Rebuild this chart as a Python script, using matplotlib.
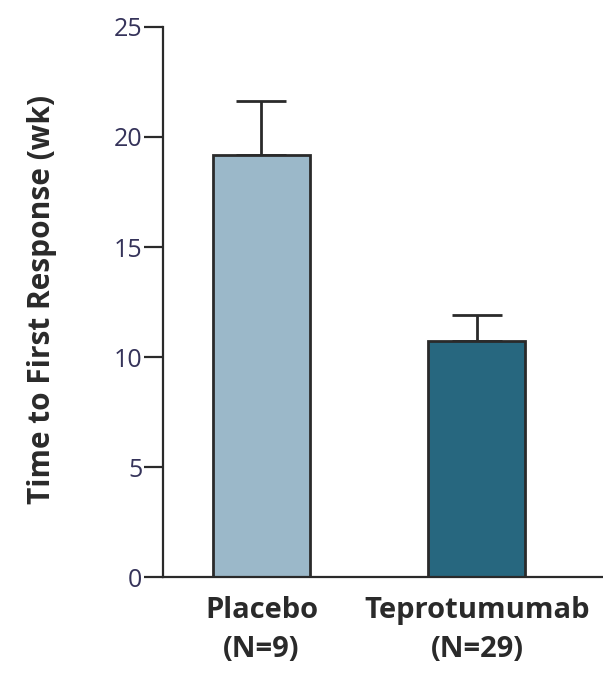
import matplotlib.pyplot as plt
import numpy as np

# Time to first response by arm, mean with upper error
groups = ["Placebo\n(N=9)", "Teprotumumab\n(N=29)"]
mean_wk = [19.2, 10.75]
err_wk = [2.45, 1.15]
bar_colors = ["#9bb8c9", "#27677f"]
y_ticks = [0, 5, 10, 15, 20, 25]

INK = "#2a2a2a"

plt.rcParams["font.family"] = ["Open Sans", "DejaVu Sans"]

fig = plt.figure(figsize=(6.03, 6.73), dpi=100)
ax = fig.add_axes([0.2703, 0.1426, 0.7297, 0.8173])

x = np.arange(len(groups))
ax.bar(
    x,
    mean_wk,
    width=0.45,
    color=bar_colors,
    edgecolor=INK,
    linewidth=2.0,
    zorder=2,
)
ax.errorbar(
    x,
    mean_wk,
    yerr=[np.zeros(len(err_wk)), err_wk],
    fmt="none",
    ecolor=INK,
    elinewidth=2.0,
    capsize=18,
    capthick=2.0,
    zorder=1,
)

ax.set_xlim(-0.457, 1.585)
ax.set_ylim(0, 25)
ax.set_yticks(y_ticks)
ax.set_xticks(x)
ax.set_xticklabels(groups, fontsize=21, fontweight="bold", color=INK, linespacing=1.45)

for side in ["top", "right"]:
    ax.spines[side].set_visible(False)
for side in ["left", "bottom"]:
    ax.spines[side].set_linewidth(1.6)
    ax.spines[side].set_color(INK)

ax.tick_params(axis="y", length=14, width=1.6, color=INK, labelsize=18, labelcolor="#35335a", pad=1)
ax.tick_params(axis="x", length=0, pad=14)

ax.set_ylabel("Time to First Response (wk)", fontsize=21.5, fontweight="bold", color=INK)
ax.yaxis.label.set_va("center")
ax.yaxis.set_label_coords(-0.275, 0.505)

fig.savefig("out.png", dpi=100)
